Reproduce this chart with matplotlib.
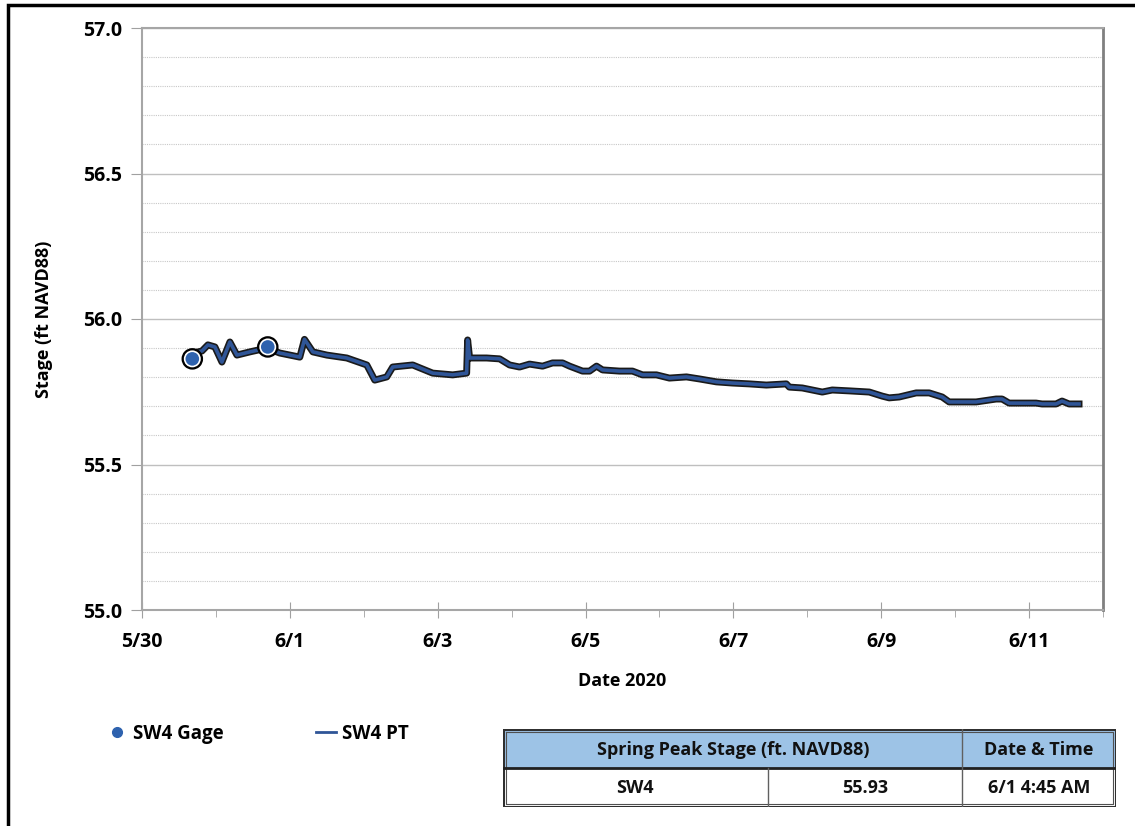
import matplotlib
matplotlib.use("Agg")
import matplotlib.pyplot as plt
import matplotlib.dates as mdates
import matplotlib.patheffects as pe
from matplotlib.lines import Line2D
from matplotlib.patches import Rectangle
import pandas as pd

# SW4 pressure transducer record
pt_times = [
    "2020-05-30 16:32", "2020-05-30 19:28", "2020-05-30 21:24", "2020-05-30 23:40",
    "2020-05-31 01:57", "2020-05-31 04:32", "2020-05-31 06:49", "2020-05-31 11:01",
    "2020-05-31 16:32", "2020-05-31 20:45", "2020-06-01 03:14", "2020-06-01 04:45",
    "2020-06-01 07:28", "2020-06-01 12:00", "2020-06-01 18:29", "2020-06-02 00:59",
    "2020-06-02 03:34", "2020-06-02 07:28", "2020-06-02 09:24", "2020-06-02 15:53",
    "2020-06-02 22:22", "2020-06-03 04:52", "2020-06-03 09:24", "2020-06-03 09:43",
    "2020-06-03 10:22", "2020-06-03 15:53", "2020-06-03 20:07", "2020-06-03 23:21",
    "2020-06-04 02:35", "2020-06-04 05:50", "2020-06-04 10:03", "2020-06-04 13:18",
    "2020-06-04 16:32", "2020-06-04 18:49", "2020-06-04 23:01", "2020-06-05 01:18",
    "2020-06-05 03:34", "2020-06-05 05:31", "2020-06-05 11:01", "2020-06-05 15:14",
    "2020-06-05 18:29", "2020-06-05 23:01", "2020-06-06 03:14", "2020-06-06 08:46",
    "2020-06-06 12:59", "2020-06-06 18:29", "2020-06-06 23:40", "2020-06-07 05:11",
    "2020-06-07 10:42", "2020-06-07 17:11", "2020-06-07 18:10", "2020-06-07 22:22",
    "2020-06-08 04:52", "2020-06-08 08:06", "2020-06-08 13:38", "2020-06-08 20:07",
    "2020-06-09 00:20", "2020-06-09 02:35", "2020-06-09 05:50", "2020-06-09 11:21",
    "2020-06-09 15:34", "2020-06-09 19:47", "2020-06-09 22:03", "2020-06-10 02:16",
    "2020-06-10 06:49", "2020-06-10 13:18", "2020-06-10 15:14", "2020-06-10 17:31",
    "2020-06-10 21:43", "2020-06-11 02:16", "2020-06-11 04:13", "2020-06-11 08:46",
    "2020-06-11 10:42", "2020-06-11 12:59", "2020-06-11 16:13",
]
pt_stage = [
    55.883, 55.890, 55.911, 55.904,
    55.852, 55.921, 55.876, 55.887,
    55.900, 55.883, 55.869, 55.930,
    55.887, 55.876, 55.866, 55.842,
    55.790, 55.801, 55.835, 55.842,
    55.814, 55.808, 55.814, 55.928,
    55.866, 55.866, 55.863, 55.842,
    55.835, 55.845, 55.838, 55.849,
    55.849, 55.838, 55.821, 55.821,
    55.838, 55.825, 55.821, 55.821,
    55.808, 55.808, 55.797, 55.801,
    55.794, 55.784, 55.780, 55.777,
    55.773, 55.777, 55.766, 55.763,
    55.749, 55.756, 55.753, 55.749,
    55.735, 55.729, 55.732, 55.746,
    55.746, 55.732, 55.715, 55.715,
    55.715, 55.725, 55.725, 55.711,
    55.711, 55.711, 55.708, 55.708,
    55.718, 55.708, 55.708,
]

# manual gage readings
gage_times = ["2020-05-30 16:20", "2020-05-31 16:50"]
gage_stage = [55.863, 55.904]

table_header = ["Spring Peak Stage (ft. NAVD88)", "Date & Time"]
table_row = ["SW4", "55.93", "6/1 4:45 AM"]

BLUE = "#2F5597"
GAGE_BLUE = "#2E62AE"
FONT = "Open Sans"

fig = plt.figure(figsize=(11.35, 8.26), dpi=100)
ax = fig.add_axes([142 / 1135, 1 - 610 / 826, (1103 - 142) / 1135, (610 - 28) / 826])

pt_t = pd.to_datetime(pt_times)
gage_t = pd.to_datetime(gage_times)

ax.plot(pt_t, pt_stage, color=BLUE, lw=2.6, zorder=3,
        path_effects=[pe.Stroke(linewidth=5, foreground="#1a1a1a"), pe.Normal()])
ax.plot(gage_t, gage_stage, ls="", marker="o", ms=11, mfc=GAGE_BLUE, mec="white",
        mew=1.2, zorder=4,
        path_effects=[pe.Stroke(linewidth=4.5, foreground="black"), pe.Normal()])

ax.set_ylim(55.0, 57.0)
ax.set_xlim(pd.Timestamp("2020-05-30"), pd.Timestamp("2020-06-12"))
ax.set_yticks([55.0, 55.5, 56.0, 56.5, 57.0])
ax.set_yticks([55.0 + 0.1 * i for i in range(21)], minor=True)
ax.yaxis.set_major_formatter(matplotlib.ticker.FormatStrFormatter("%.1f"))
ax.grid(axis="y", which="major", color="#bfbfbf", lw=1.0, ls="-")
ax.grid(axis="y", which="minor", color="#c8c8c8", lw=0.8, ls=(0, (1, 1)))
ax.set_axisbelow(True)

ax.xaxis.set_major_locator(mdates.DayLocator(bymonthday=[30, 1, 3, 5, 7, 9, 11]))
ax.xaxis.set_minor_locator(mdates.DayLocator())
ax.xaxis.set_major_formatter(mdates.DateFormatter("%-m/%-d"))

ax.tick_params(axis="y", which="major", direction="out", length=8, color="#a0a0a0",
               labelsize=14, pad=6)
ax.tick_params(axis="y", which="minor", length=0)
ax.tick_params(axis="x", which="major", direction="inout", length=12, color="#a0a0a0",
               labelsize=14, pad=10)
ax.tick_params(axis="x", which="minor", direction="out", length=5, color="#a0a0a0")
for lab in ax.get_xticklabels() + ax.get_yticklabels():
    lab.set_fontweight("bold")
    lab.set_fontfamily(FONT)

for side in ["left", "bottom", "top"]:
    ax.spines[side].set_color("#a6a6a6")
    ax.spines[side].set_linewidth(1.5)
ax.spines["right"].set_color("#808080")
ax.spines["right"].set_linewidth(2)

ax.set_xlabel("Date 2020", fontsize=13, fontweight="bold", family=FONT, labelpad=14)
ax.set_ylabel("Stage (ft NAVD88)", fontsize=13, fontweight="bold", family=FONT, labelpad=22)

# legend below the chart
handles = [
    Line2D([], [], ls="", marker="o", ms=7, color=GAGE_BLUE),
    Line2D([], [], color=BLUE, lw=2),
]
fig.legend(handles, ["SW4 Gage", "SW4 PT"], loc="center left",
           bbox_to_anchor=(90 / 1135, 1 - 734 / 826), ncol=2, frameon=False,
           handlelength=1.1, handletextpad=0.3, columnspacing=4.9,
           prop={"family": FONT, "weight": "bold", "size": 13.5})

# peak stage table
tx = fig.add_axes([503 / 1135, 1 - 807 / 826, (1116 - 503) / 1135, (807 - 729) / 826])
tx.set_xlim(503, 1116)
tx.set_ylim(807, 729)
tx.axis("off")
tx.add_patch(Rectangle((503, 729), 613, 39, facecolor="#9DC3E6", edgecolor="none"))
tx.plot([503, 1116, 1116, 503, 503], [729, 729, 807, 807, 729], color="#303030", lw=2.2)
tx.plot([506, 1113, 1113, 506, 506], [732, 732, 804, 804, 732], color="#505050", lw=0.8)
tx.plot([503, 1116], [768, 768], color="#202020", lw=2)
tx.plot([962, 962], [729, 807], color="#606060", lw=1)
tx.plot([768, 768], [768, 807], color="#606060", lw=1)
cell_kw = dict(ha="center", va="center", fontsize=13, fontweight="bold", family=FONT,
               color="#111111")
tx.text(733, 750, table_header[0], **cell_kw)
tx.text(1039, 750, table_header[1], **cell_kw)
tx.text(635, 788, table_row[0], **cell_kw)
tx.text(865, 788, table_row[1], **cell_kw)
tx.text(1039, 788, table_row[2], **cell_kw)

# outer border of the original graphic
fig.add_artist(Rectangle((8 / 1135, -0.02), 1.1, 1 - 5 / 826 + 0.02, transform=fig.transFigure,
                         fill=False, edgecolor="black", lw=2.5))

fig.savefig("out.png", dpi=100)
